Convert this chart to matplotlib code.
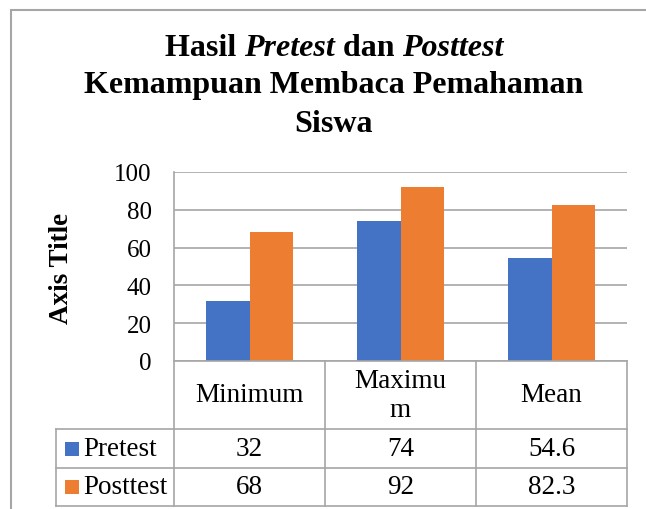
import matplotlib.pyplot as plt
import numpy as np
from matplotlib.patches import Rectangle
from matplotlib.transforms import blended_transform_factory

categories = ["Minimum", "Maximum", "Mean"]
header_labels = ["Minimum", "Maximu\nm", "Mean"]
series_names = ["Pretest", "Posttest"]
pretest = [32, 74, 54.6]
posttest = [68, 92, 82.3]
y_ticks = [0, 20, 40, 60, 80, 100]

blue = "#4472C4"
orange = "#ED7D31"
line_grey = "#a6a6a6"
font = "Liberation Serif"
W, H = 646, 510

plt.rcParams['font.family'] = font

fig = plt.figure(figsize=(W / 100, H / 100), dpi=100)
ax = fig.add_axes([174 / W, (H - 362) / H, 453 / W, 189 / H])

x = np.arange(len(categories))
width = 0.285
ax.bar(x - width / 2, pretest, width, color=blue, zorder=2)
ax.bar(x + width / 2, posttest, width, color=orange, zorder=2)

ax.set_xlim(-0.5, len(categories) - 0.5)
ax.set_ylim(0, 100)
ax.set_yticks(y_ticks)
ax.set_xticks([])
ax.yaxis.grid(True, color=line_grey, lw=1.2)
ax.set_axisbelow(True)
for s in ["top", "right"]:
    ax.spines[s].set_visible(False)
for s in ["left", "bottom"]:
    ax.spines[s].set_color(line_grey)
    ax.spines[s].set_linewidth(1.2)
ax.tick_params(axis="y", length=0, pad=16, labelsize=18)
fig.text(62 / W, 1 - 268 / H, "Axis Title", fontsize=19.5, fontweight="bold",
         rotation=90, ha="center", va="center")

# data table under the plot (x in data units, y in axes units)
tr = blended_transform_factory(ax.transData, ax.transAxes)
px_x = 151.0  # pixels per category
px_y = 189.0  # pixels of axes height
y_head = -68 / px_y
y_row1 = -107 / px_y
y_row2 = -145 / px_y
x_leg = -0.5 - 118 / px_x
x_right = len(categories) - 0.5
lk = dict(color=line_grey, lw=1.2, transform=tr, clip_on=False)

for xb in np.arange(len(categories) + 1) - 0.5:
    ax.plot([xb, xb], [0, y_row2], **lk)
ax.plot([x_leg, x_leg], [y_head, y_row2], **lk)
for yb in [y_head, y_row1, y_row2]:
    ax.plot([x_leg, x_right], [yb, yb], **lk)

tsz = 19.5
for i, lab in enumerate(header_labels):
    ax.text(i, y_head / 2, lab, transform=tr, ha="center", va="center",
            fontsize=tsz, linespacing=1.25)

row_mid = [(y_head + y_row1) / 2, (y_row1 + y_row2) / 2]
for vals, name, col, ym in zip([pretest, posttest], series_names,
                               [blue, orange], row_mid):
    for i, v in enumerate(vals):
        ax.text(i, ym, f"{v:g}", transform=tr, ha="center", va="center",
                fontsize=tsz)
    sq_w = 14 / px_x
    sq_h = 14 / px_y
    ax.add_patch(Rectangle((x_leg + 9 / px_x, ym - sq_h / 2), sq_w, sq_h,
                           facecolor=col, edgecolor="none", transform=tr,
                           clip_on=False))
    ax.text(x_leg + 27 / px_x, ym, name, transform=tr, ha="left",
            va="center", fontsize=tsz)

# chart border (cropped on right and bottom)
fig.patches.append(Rectangle((10.5 / W, -0.1), 1.0, (H - 10.5) / H + 0.1,
                             fill=False, edgecolor=line_grey, lw=1.5,
                             transform=fig.transFigure))

# title with mixed bold / bold italic pieces
title_size = 23
fig.canvas.draw()
renderer = fig.canvas.get_renderer()
pieces = [("Hasil ", "normal"), ("Pretest", "italic"), (" dan ", "normal"),
          ("Posttest", "italic")]
texts = []
for s, st in pieces:
    t = fig.text(0, 0, s, fontsize=title_size, fontweight="bold", style=st,
                 va="center", ha="left")
    texts.append(t)
widths = [t.get_window_extent(renderer).width for t in texts]
xpos = 334 - sum(widths) / 2
for t, wd in zip(texts, widths):
    t.set_position((xpos / W, 1 - 48 / H))
    xpos += wd
fig.text(334 / W, 1 - 86 / H, "Kemampuan Membaca Pemahaman",
         fontsize=title_size, fontweight="bold", ha="center", va="center")
fig.text(334 / W, 1 - 125 / H, "Siswa", fontsize=title_size,
         fontweight="bold", ha="center", va="center")

fig.savefig("out.png", dpi=100)
